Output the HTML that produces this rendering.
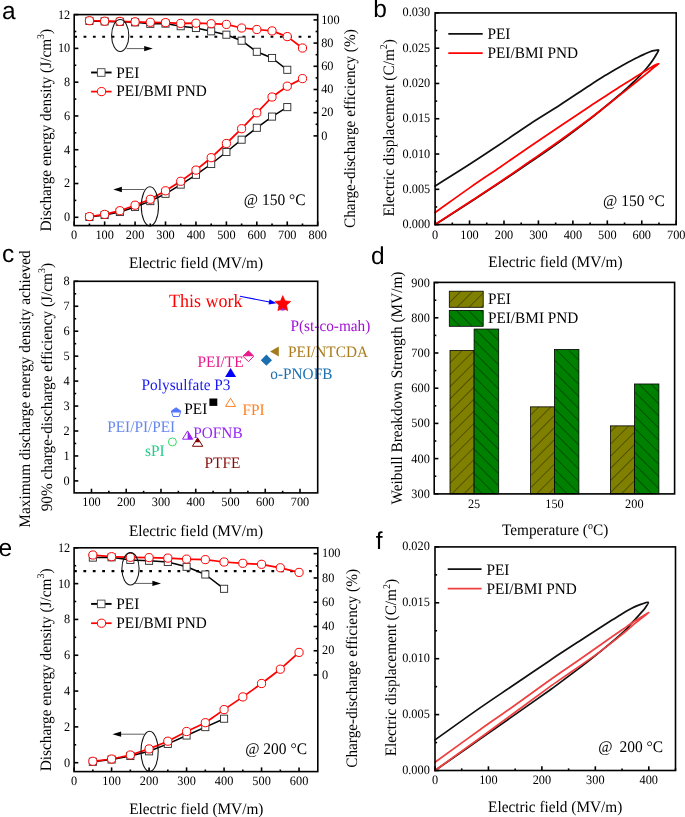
<!DOCTYPE html>
<html><head><meta charset="utf-8"><title>figure</title>
<style>html,body{margin:0;padding:0;background:#fff;width:685px;height:817px;overflow:hidden}svg{display:block;will-change:transform}text{text-rendering:geometricPrecision}</style>
</head><body>
<svg width="685" height="817" viewBox="0 0 685 817">
<rect width="685" height="817" fill="#fff"/>
<line x1="74.2" y1="217.3" x2="78.4" y2="217.3" stroke="#000" stroke-width="1.6"/>
<line x1="74.2" y1="183.52" x2="78.4" y2="183.52" stroke="#000" stroke-width="1.6"/>
<line x1="74.2" y1="149.73" x2="78.4" y2="149.73" stroke="#000" stroke-width="1.6"/>
<line x1="74.2" y1="115.95" x2="78.4" y2="115.95" stroke="#000" stroke-width="1.6"/>
<line x1="74.2" y1="82.17" x2="78.4" y2="82.17" stroke="#000" stroke-width="1.6"/>
<line x1="74.2" y1="48.38" x2="78.4" y2="48.38" stroke="#000" stroke-width="1.6"/>
<line x1="74.2" y1="14.6" x2="78.4" y2="14.6" stroke="#000" stroke-width="1.6"/>
<line x1="74.2" y1="200.41" x2="76.3" y2="200.41" stroke="#000" stroke-width="1.6"/>
<line x1="74.2" y1="166.62" x2="76.3" y2="166.62" stroke="#000" stroke-width="1.6"/>
<line x1="74.2" y1="132.84" x2="76.3" y2="132.84" stroke="#000" stroke-width="1.6"/>
<line x1="74.2" y1="99.06" x2="76.3" y2="99.06" stroke="#000" stroke-width="1.6"/>
<line x1="74.2" y1="65.27" x2="76.3" y2="65.27" stroke="#000" stroke-width="1.6"/>
<line x1="74.2" y1="31.49" x2="76.3" y2="31.49" stroke="#000" stroke-width="1.6"/>
<line x1="74.2" y1="225.6" x2="74.2" y2="221.4" stroke="#000" stroke-width="1.6"/>
<line x1="104.64" y1="225.6" x2="104.64" y2="221.4" stroke="#000" stroke-width="1.6"/>
<line x1="135.07" y1="225.6" x2="135.07" y2="221.4" stroke="#000" stroke-width="1.6"/>
<line x1="165.51" y1="225.6" x2="165.51" y2="221.4" stroke="#000" stroke-width="1.6"/>
<line x1="195.95" y1="225.6" x2="195.95" y2="221.4" stroke="#000" stroke-width="1.6"/>
<line x1="226.39" y1="225.6" x2="226.39" y2="221.4" stroke="#000" stroke-width="1.6"/>
<line x1="256.82" y1="225.6" x2="256.82" y2="221.4" stroke="#000" stroke-width="1.6"/>
<line x1="287.26" y1="225.6" x2="287.26" y2="221.4" stroke="#000" stroke-width="1.6"/>
<line x1="317.7" y1="225.6" x2="317.7" y2="221.4" stroke="#000" stroke-width="1.6"/>
<line x1="89.42" y1="225.6" x2="89.42" y2="223.5" stroke="#000" stroke-width="1.6"/>
<line x1="119.86" y1="225.6" x2="119.86" y2="223.5" stroke="#000" stroke-width="1.6"/>
<line x1="150.29" y1="225.6" x2="150.29" y2="223.5" stroke="#000" stroke-width="1.6"/>
<line x1="180.73" y1="225.6" x2="180.73" y2="223.5" stroke="#000" stroke-width="1.6"/>
<line x1="211.17" y1="225.6" x2="211.17" y2="223.5" stroke="#000" stroke-width="1.6"/>
<line x1="241.61" y1="225.6" x2="241.61" y2="223.5" stroke="#000" stroke-width="1.6"/>
<line x1="272.04" y1="225.6" x2="272.04" y2="223.5" stroke="#000" stroke-width="1.6"/>
<line x1="302.48" y1="225.6" x2="302.48" y2="223.5" stroke="#000" stroke-width="1.6"/>
<line x1="317.7" y1="135.9" x2="313.5" y2="135.9" stroke="#000" stroke-width="1.6"/>
<line x1="317.7" y1="112.7" x2="313.5" y2="112.7" stroke="#000" stroke-width="1.6"/>
<line x1="317.7" y1="89.5" x2="313.5" y2="89.5" stroke="#000" stroke-width="1.6"/>
<line x1="317.7" y1="66.3" x2="313.5" y2="66.3" stroke="#000" stroke-width="1.6"/>
<line x1="317.7" y1="43.1" x2="313.5" y2="43.1" stroke="#000" stroke-width="1.6"/>
<line x1="317.7" y1="19.9" x2="313.5" y2="19.9" stroke="#000" stroke-width="1.6"/>
<line x1="317.7" y1="124.3" x2="315.6" y2="124.3" stroke="#000" stroke-width="1.6"/>
<line x1="317.7" y1="101.1" x2="315.6" y2="101.1" stroke="#000" stroke-width="1.6"/>
<line x1="317.7" y1="77.9" x2="315.6" y2="77.9" stroke="#000" stroke-width="1.6"/>
<line x1="317.7" y1="54.7" x2="315.6" y2="54.7" stroke="#000" stroke-width="1.6"/>
<line x1="317.7" y1="31.5" x2="315.6" y2="31.5" stroke="#000" stroke-width="1.6"/>
<line x1="74.2" y1="36.7" x2="313" y2="36.7" stroke="#000" stroke-width="2.1" stroke-dasharray="2.8 6.55"/>
<polyline points="89.42,20.9 104.64,21.4 119.86,21.8 135.07,22.3 150.29,23.8 165.51,23.6 180.73,26.2 195.95,28 211.17,31.3 226.39,34.7 241.61,40.7 256.82,51.8 272.04,58 287.26,69.8" fill="none" stroke="#000" stroke-width="1.5" stroke-linejoin="round" stroke-linecap="round"/>
<polyline points="89.42,217 104.64,215 119.86,212 135.07,207 150.29,201.1 165.51,193.8 180.73,184.6 195.95,174.8 211.17,164 226.39,152 241.61,139.7 256.82,127.8 272.04,116.6 287.26,107.1" fill="none" stroke="#000" stroke-width="1.5" stroke-linejoin="round" stroke-linecap="round"/>
<polyline points="89.42,20.7 104.64,21.2 119.86,21.4 135.07,21.8 150.29,22.3 165.51,22.6 180.73,23.4 195.95,23.2 211.17,23.7 226.39,24.4 241.61,28 256.82,29.5 272.04,30.9 287.26,36.6 302.48,48" fill="none" stroke="#f00" stroke-width="1.75" stroke-linejoin="round" stroke-linecap="round"/>
<polyline points="89.42,216.6 104.64,214.4 119.86,210.7 135.07,205.2 150.29,199.3 165.51,190.8 180.73,181.3 195.95,170.1 211.17,157.7 226.39,143.5 241.61,128.7 256.82,112.8 272.04,97 287.26,86.2 302.48,78.6" fill="none" stroke="#f00" stroke-width="1.75" stroke-linejoin="round" stroke-linecap="round"/>
<rect x="85.87" y="17.35" width="7.1" height="7.1" fill="#fff" stroke="#333" stroke-width="0.95"/>
<rect x="101.09" y="17.85" width="7.1" height="7.1" fill="#fff" stroke="#333" stroke-width="0.95"/>
<rect x="116.31" y="18.25" width="7.1" height="7.1" fill="#fff" stroke="#333" stroke-width="0.95"/>
<rect x="131.52" y="18.75" width="7.1" height="7.1" fill="#fff" stroke="#333" stroke-width="0.95"/>
<rect x="146.74" y="20.25" width="7.1" height="7.1" fill="#fff" stroke="#333" stroke-width="0.95"/>
<rect x="161.96" y="20.05" width="7.1" height="7.1" fill="#fff" stroke="#333" stroke-width="0.95"/>
<rect x="177.18" y="22.65" width="7.1" height="7.1" fill="#fff" stroke="#333" stroke-width="0.95"/>
<rect x="192.4" y="24.45" width="7.1" height="7.1" fill="#fff" stroke="#333" stroke-width="0.95"/>
<rect x="207.62" y="27.75" width="7.1" height="7.1" fill="#fff" stroke="#333" stroke-width="0.95"/>
<rect x="222.84" y="31.15" width="7.1" height="7.1" fill="#fff" stroke="#333" stroke-width="0.95"/>
<rect x="238.06" y="37.15" width="7.1" height="7.1" fill="#fff" stroke="#333" stroke-width="0.95"/>
<rect x="253.27" y="48.25" width="7.1" height="7.1" fill="#fff" stroke="#333" stroke-width="0.95"/>
<rect x="268.49" y="54.45" width="7.1" height="7.1" fill="#fff" stroke="#333" stroke-width="0.95"/>
<rect x="283.71" y="66.25" width="7.1" height="7.1" fill="#fff" stroke="#333" stroke-width="0.95"/>
<rect x="85.87" y="213.45" width="7.1" height="7.1" fill="#fff" stroke="#333" stroke-width="0.95"/>
<rect x="101.09" y="211.45" width="7.1" height="7.1" fill="#fff" stroke="#333" stroke-width="0.95"/>
<rect x="116.31" y="208.45" width="7.1" height="7.1" fill="#fff" stroke="#333" stroke-width="0.95"/>
<rect x="131.52" y="203.45" width="7.1" height="7.1" fill="#fff" stroke="#333" stroke-width="0.95"/>
<rect x="146.74" y="197.55" width="7.1" height="7.1" fill="#fff" stroke="#333" stroke-width="0.95"/>
<rect x="161.96" y="190.25" width="7.1" height="7.1" fill="#fff" stroke="#333" stroke-width="0.95"/>
<rect x="177.18" y="181.05" width="7.1" height="7.1" fill="#fff" stroke="#333" stroke-width="0.95"/>
<rect x="192.4" y="171.25" width="7.1" height="7.1" fill="#fff" stroke="#333" stroke-width="0.95"/>
<rect x="207.62" y="160.45" width="7.1" height="7.1" fill="#fff" stroke="#333" stroke-width="0.95"/>
<rect x="222.84" y="148.45" width="7.1" height="7.1" fill="#fff" stroke="#333" stroke-width="0.95"/>
<rect x="238.06" y="136.15" width="7.1" height="7.1" fill="#fff" stroke="#333" stroke-width="0.95"/>
<rect x="253.27" y="124.25" width="7.1" height="7.1" fill="#fff" stroke="#333" stroke-width="0.95"/>
<rect x="268.49" y="113.05" width="7.1" height="7.1" fill="#fff" stroke="#333" stroke-width="0.95"/>
<rect x="283.71" y="103.55" width="7.1" height="7.1" fill="#fff" stroke="#333" stroke-width="0.95"/>
<circle cx="89.42" cy="20.7" r="4.1" fill="#fff" stroke="#f00" stroke-width="1"/>
<circle cx="104.64" cy="21.2" r="4.1" fill="#fff" stroke="#f00" stroke-width="1"/>
<circle cx="119.86" cy="21.4" r="4.1" fill="#fff" stroke="#f00" stroke-width="1"/>
<circle cx="135.07" cy="21.8" r="4.1" fill="#fff" stroke="#f00" stroke-width="1"/>
<circle cx="150.29" cy="22.3" r="4.1" fill="#fff" stroke="#f00" stroke-width="1"/>
<circle cx="165.51" cy="22.6" r="4.1" fill="#fff" stroke="#f00" stroke-width="1"/>
<circle cx="180.73" cy="23.4" r="4.1" fill="#fff" stroke="#f00" stroke-width="1"/>
<circle cx="195.95" cy="23.2" r="4.1" fill="#fff" stroke="#f00" stroke-width="1"/>
<circle cx="211.17" cy="23.7" r="4.1" fill="#fff" stroke="#f00" stroke-width="1"/>
<circle cx="226.39" cy="24.4" r="4.1" fill="#fff" stroke="#f00" stroke-width="1"/>
<circle cx="241.61" cy="28" r="4.1" fill="#fff" stroke="#f00" stroke-width="1"/>
<circle cx="256.82" cy="29.5" r="4.1" fill="#fff" stroke="#f00" stroke-width="1"/>
<circle cx="272.04" cy="30.9" r="4.1" fill="#fff" stroke="#f00" stroke-width="1"/>
<circle cx="287.26" cy="36.6" r="4.1" fill="#fff" stroke="#f00" stroke-width="1"/>
<circle cx="302.48" cy="48" r="4.1" fill="#fff" stroke="#f00" stroke-width="1"/>
<circle cx="89.42" cy="216.6" r="4.1" fill="#fff" stroke="#f00" stroke-width="1"/>
<circle cx="104.64" cy="214.4" r="4.1" fill="#fff" stroke="#f00" stroke-width="1"/>
<circle cx="119.86" cy="210.7" r="4.1" fill="#fff" stroke="#f00" stroke-width="1"/>
<circle cx="135.07" cy="205.2" r="4.1" fill="#fff" stroke="#f00" stroke-width="1"/>
<circle cx="150.29" cy="199.3" r="4.1" fill="#fff" stroke="#f00" stroke-width="1"/>
<circle cx="165.51" cy="190.8" r="4.1" fill="#fff" stroke="#f00" stroke-width="1"/>
<circle cx="180.73" cy="181.3" r="4.1" fill="#fff" stroke="#f00" stroke-width="1"/>
<circle cx="195.95" cy="170.1" r="4.1" fill="#fff" stroke="#f00" stroke-width="1"/>
<circle cx="211.17" cy="157.7" r="4.1" fill="#fff" stroke="#f00" stroke-width="1"/>
<circle cx="226.39" cy="143.5" r="4.1" fill="#fff" stroke="#f00" stroke-width="1"/>
<circle cx="241.61" cy="128.7" r="4.1" fill="#fff" stroke="#f00" stroke-width="1"/>
<circle cx="256.82" cy="112.8" r="4.1" fill="#fff" stroke="#f00" stroke-width="1"/>
<circle cx="272.04" cy="97" r="4.1" fill="#fff" stroke="#f00" stroke-width="1"/>
<circle cx="287.26" cy="86.2" r="4.1" fill="#fff" stroke="#f00" stroke-width="1"/>
<circle cx="302.48" cy="78.6" r="4.1" fill="#fff" stroke="#f00" stroke-width="1"/>
<ellipse cx="120.2" cy="35.5" rx="8.6" ry="16" fill="none" stroke="#111" stroke-width="1.05"/>
<ellipse cx="149.9" cy="206.4" rx="8.6" ry="19.6" fill="none" stroke="#111" stroke-width="1.05"/>
<line x1="126.5" y1="48.6" x2="144.7" y2="48.6" stroke="#444" stroke-width="0.85"/>
<polygon points="152.8,48.6 144.2,51.25 144.2,45.95" fill="#000" stroke="none" stroke-width="1" stroke-linejoin="miter"/>
<line x1="144.5" y1="189.5" x2="121.4" y2="189.5" stroke="#444" stroke-width="0.85"/>
<polygon points="113.3,189.5 121.9,186.85 121.9,192.15" fill="#000" stroke="none" stroke-width="1" stroke-linejoin="miter"/>
<line x1="91.1" y1="72.5" x2="111.6" y2="72.5" stroke="#000" stroke-width="1.9"/>
<rect x="97.4" y="68.7" width="7.6" height="7.6" fill="#fff" stroke="#444" stroke-width="0.9"/>
<line x1="91.1" y1="91.6" x2="111.6" y2="91.6" stroke="#f00" stroke-width="1.75"/>
<circle cx="101.5" cy="91.6" r="4.1" fill="#fff" stroke="#f00" stroke-width="1"/>
<text font-size="15.3" text-anchor="start" fill="#000" font-family='"Liberation Serif", serif' transform="translate(116.3 77.6) scale(1 1.04)">PEI</text>
<text font-size="15.3" text-anchor="start" fill="#000" font-family='"Liberation Serif", serif' transform="translate(116.3 96.4) scale(1 1.04)">PEI/BMI PND</text>
<text font-size="15.5" text-anchor="start" fill="#000" font-family='"Liberation Serif", serif' transform="translate(243.8 205) scale(1 1.04)">@ 150 °C</text>
<rect x="74.2" y="14.6" width="243.5" height="211" fill="none" stroke="#000" stroke-width="1.6"/>
<text font-size="12.3" text-anchor="end" fill="#000" font-family='"Liberation Serif", serif' transform="translate(70.2 221.2) scale(1 1.04)">0</text>
<text font-size="12.3" text-anchor="end" fill="#000" font-family='"Liberation Serif", serif' transform="translate(70.2 187.42) scale(1 1.04)">2</text>
<text font-size="12.3" text-anchor="end" fill="#000" font-family='"Liberation Serif", serif' transform="translate(70.2 153.63) scale(1 1.04)">4</text>
<text font-size="12.3" text-anchor="end" fill="#000" font-family='"Liberation Serif", serif' transform="translate(70.2 119.85) scale(1 1.04)">6</text>
<text font-size="12.3" text-anchor="end" fill="#000" font-family='"Liberation Serif", serif' transform="translate(70.2 86.07) scale(1 1.04)">8</text>
<text font-size="12.3" text-anchor="end" fill="#000" font-family='"Liberation Serif", serif' transform="translate(70.2 52.28) scale(1 1.04)">10</text>
<text font-size="12.3" text-anchor="end" fill="#000" font-family='"Liberation Serif", serif' transform="translate(70.2 18.5) scale(1 1.04)">12</text>
<text font-size="12.3" text-anchor="middle" fill="#000" font-family='"Liberation Serif", serif' transform="translate(74.2 239) scale(1 1.04)">0</text>
<text font-size="12.3" text-anchor="middle" fill="#000" font-family='"Liberation Serif", serif' transform="translate(104.64 239) scale(1 1.04)">100</text>
<text font-size="12.3" text-anchor="middle" fill="#000" font-family='"Liberation Serif", serif' transform="translate(135.07 239) scale(1 1.04)">200</text>
<text font-size="12.3" text-anchor="middle" fill="#000" font-family='"Liberation Serif", serif' transform="translate(165.51 239) scale(1 1.04)">300</text>
<text font-size="12.3" text-anchor="middle" fill="#000" font-family='"Liberation Serif", serif' transform="translate(195.95 239) scale(1 1.04)">400</text>
<text font-size="12.3" text-anchor="middle" fill="#000" font-family='"Liberation Serif", serif' transform="translate(226.39 239) scale(1 1.04)">500</text>
<text font-size="12.3" text-anchor="middle" fill="#000" font-family='"Liberation Serif", serif' transform="translate(256.82 239) scale(1 1.04)">600</text>
<text font-size="12.3" text-anchor="middle" fill="#000" font-family='"Liberation Serif", serif' transform="translate(287.26 239) scale(1 1.04)">700</text>
<text font-size="12.3" text-anchor="middle" fill="#000" font-family='"Liberation Serif", serif' transform="translate(317.7 239) scale(1 1.04)">800</text>
<text font-size="12.3" text-anchor="start" fill="#000" font-family='"Liberation Serif", serif' transform="translate(321.2 139.6) scale(1 1.04)">0</text>
<text font-size="12.3" text-anchor="start" fill="#000" font-family='"Liberation Serif", serif' transform="translate(321.2 116.4) scale(1 1.04)">20</text>
<text font-size="12.3" text-anchor="start" fill="#000" font-family='"Liberation Serif", serif' transform="translate(321.2 93.2) scale(1 1.04)">40</text>
<text font-size="12.3" text-anchor="start" fill="#000" font-family='"Liberation Serif", serif' transform="translate(321.2 70) scale(1 1.04)">60</text>
<text font-size="12.3" text-anchor="start" fill="#000" font-family='"Liberation Serif", serif' transform="translate(321.2 46.8) scale(1 1.04)">80</text>
<text font-size="12.3" text-anchor="start" fill="#000" font-family='"Liberation Serif", serif' transform="translate(321.2 23.6) scale(1 1.04)">100</text>
<text font-size="15.3" text-anchor="middle" fill="#000" font-family='"Liberation Serif", serif' transform="translate(50.6 130.2) rotate(-90) scale(1 1.04)">Discharge energy density (J/cm<tspan dy="-6" font-size="10">3</tspan><tspan dy="6">)</tspan></text>
<text font-size="15.3" text-anchor="middle" fill="#000" font-family='"Liberation Serif", serif' transform="translate(354.6 128.6) rotate(-90) scale(1 1.04)">Charge-discharge efficiency (%)</text>
<text font-size="15.3" text-anchor="middle" fill="#000" font-family='"Liberation Serif", serif' transform="translate(196 267.8) scale(1 1.04)">Electric field (MV/m)</text>
<line x1="74.1" y1="762.7" x2="78.3" y2="762.7" stroke="#000" stroke-width="1.6"/>
<line x1="74.1" y1="726.88" x2="78.3" y2="726.88" stroke="#000" stroke-width="1.6"/>
<line x1="74.1" y1="691.07" x2="78.3" y2="691.07" stroke="#000" stroke-width="1.6"/>
<line x1="74.1" y1="655.25" x2="78.3" y2="655.25" stroke="#000" stroke-width="1.6"/>
<line x1="74.1" y1="619.43" x2="78.3" y2="619.43" stroke="#000" stroke-width="1.6"/>
<line x1="74.1" y1="583.62" x2="78.3" y2="583.62" stroke="#000" stroke-width="1.6"/>
<line x1="74.1" y1="547.8" x2="78.3" y2="547.8" stroke="#000" stroke-width="1.6"/>
<line x1="74.1" y1="744.79" x2="76.2" y2="744.79" stroke="#000" stroke-width="1.6"/>
<line x1="74.1" y1="708.98" x2="76.2" y2="708.98" stroke="#000" stroke-width="1.6"/>
<line x1="74.1" y1="673.16" x2="76.2" y2="673.16" stroke="#000" stroke-width="1.6"/>
<line x1="74.1" y1="637.34" x2="76.2" y2="637.34" stroke="#000" stroke-width="1.6"/>
<line x1="74.1" y1="601.52" x2="76.2" y2="601.52" stroke="#000" stroke-width="1.6"/>
<line x1="74.1" y1="565.71" x2="76.2" y2="565.71" stroke="#000" stroke-width="1.6"/>
<line x1="74.1" y1="771.6" x2="74.1" y2="767.4" stroke="#000" stroke-width="1.6"/>
<line x1="111.59" y1="771.6" x2="111.59" y2="767.4" stroke="#000" stroke-width="1.6"/>
<line x1="149.08" y1="771.6" x2="149.08" y2="767.4" stroke="#000" stroke-width="1.6"/>
<line x1="186.58" y1="771.6" x2="186.58" y2="767.4" stroke="#000" stroke-width="1.6"/>
<line x1="224.07" y1="771.6" x2="224.07" y2="767.4" stroke="#000" stroke-width="1.6"/>
<line x1="261.56" y1="771.6" x2="261.56" y2="767.4" stroke="#000" stroke-width="1.6"/>
<line x1="299.05" y1="771.6" x2="299.05" y2="767.4" stroke="#000" stroke-width="1.6"/>
<line x1="92.85" y1="771.6" x2="92.85" y2="769.5" stroke="#000" stroke-width="1.6"/>
<line x1="130.34" y1="771.6" x2="130.34" y2="769.5" stroke="#000" stroke-width="1.6"/>
<line x1="167.83" y1="771.6" x2="167.83" y2="769.5" stroke="#000" stroke-width="1.6"/>
<line x1="205.32" y1="771.6" x2="205.32" y2="769.5" stroke="#000" stroke-width="1.6"/>
<line x1="242.82" y1="771.6" x2="242.82" y2="769.5" stroke="#000" stroke-width="1.6"/>
<line x1="280.31" y1="771.6" x2="280.31" y2="769.5" stroke="#000" stroke-width="1.6"/>
<line x1="317.8" y1="675" x2="313.6" y2="675" stroke="#000" stroke-width="1.6"/>
<line x1="317.8" y1="650.74" x2="313.6" y2="650.74" stroke="#000" stroke-width="1.6"/>
<line x1="317.8" y1="626.48" x2="313.6" y2="626.48" stroke="#000" stroke-width="1.6"/>
<line x1="317.8" y1="602.22" x2="313.6" y2="602.22" stroke="#000" stroke-width="1.6"/>
<line x1="317.8" y1="577.96" x2="313.6" y2="577.96" stroke="#000" stroke-width="1.6"/>
<line x1="317.8" y1="553.7" x2="313.6" y2="553.7" stroke="#000" stroke-width="1.6"/>
<line x1="317.8" y1="662.87" x2="315.7" y2="662.87" stroke="#000" stroke-width="1.6"/>
<line x1="317.8" y1="638.61" x2="315.7" y2="638.61" stroke="#000" stroke-width="1.6"/>
<line x1="317.8" y1="614.35" x2="315.7" y2="614.35" stroke="#000" stroke-width="1.6"/>
<line x1="317.8" y1="590.09" x2="315.7" y2="590.09" stroke="#000" stroke-width="1.6"/>
<line x1="317.8" y1="565.83" x2="315.7" y2="565.83" stroke="#000" stroke-width="1.6"/>
<line x1="74" y1="571.1" x2="312" y2="571.1" stroke="#000" stroke-width="2.1" stroke-dasharray="2.8 6.6"/>
<polyline points="92.85,557.6 111.59,557.3 130.34,559.9 149.08,560.8 167.83,562 186.58,566.8 205.32,574.5 224.07,588.8" fill="none" stroke="#000" stroke-width="1.5" stroke-linejoin="round" stroke-linecap="round"/>
<polyline points="92.85,761.8 111.59,759.5 130.34,756 149.08,751.3 167.83,743.9 186.58,735.5 205.32,727.1 224.07,718.7" fill="none" stroke="#000" stroke-width="1.5" stroke-linejoin="round" stroke-linecap="round"/>
<polyline points="92.85,555 111.59,556.7 130.34,557.3 149.08,557.6 167.83,558.1 186.58,559.1 205.32,559.6 224.07,562 242.82,563.3 261.56,564.3 280.31,567.8 299.05,572.4" fill="none" stroke="#f00" stroke-width="1.75" stroke-linejoin="round" stroke-linecap="round"/>
<polyline points="92.85,761.3 111.59,759 130.34,755 149.08,748.9 167.83,741.2 186.58,731.5 205.32,722.7 224.07,709.6 242.82,696.9 261.56,683.5 280.31,669.2 299.05,652.4" fill="none" stroke="#f00" stroke-width="1.75" stroke-linejoin="round" stroke-linecap="round"/>
<rect x="89.3" y="554.05" width="7.1" height="7.1" fill="#fff" stroke="#333" stroke-width="0.95"/>
<rect x="108.04" y="553.75" width="7.1" height="7.1" fill="#fff" stroke="#333" stroke-width="0.95"/>
<rect x="126.79" y="556.35" width="7.1" height="7.1" fill="#fff" stroke="#333" stroke-width="0.95"/>
<rect x="145.53" y="557.25" width="7.1" height="7.1" fill="#fff" stroke="#333" stroke-width="0.95"/>
<rect x="164.28" y="558.45" width="7.1" height="7.1" fill="#fff" stroke="#333" stroke-width="0.95"/>
<rect x="183.03" y="563.25" width="7.1" height="7.1" fill="#fff" stroke="#333" stroke-width="0.95"/>
<rect x="201.77" y="570.95" width="7.1" height="7.1" fill="#fff" stroke="#333" stroke-width="0.95"/>
<rect x="220.52" y="585.25" width="7.1" height="7.1" fill="#fff" stroke="#333" stroke-width="0.95"/>
<rect x="89.3" y="758.25" width="7.1" height="7.1" fill="#fff" stroke="#333" stroke-width="0.95"/>
<rect x="108.04" y="755.95" width="7.1" height="7.1" fill="#fff" stroke="#333" stroke-width="0.95"/>
<rect x="126.79" y="752.45" width="7.1" height="7.1" fill="#fff" stroke="#333" stroke-width="0.95"/>
<rect x="145.53" y="747.75" width="7.1" height="7.1" fill="#fff" stroke="#333" stroke-width="0.95"/>
<rect x="164.28" y="740.35" width="7.1" height="7.1" fill="#fff" stroke="#333" stroke-width="0.95"/>
<rect x="183.03" y="731.95" width="7.1" height="7.1" fill="#fff" stroke="#333" stroke-width="0.95"/>
<rect x="201.77" y="723.55" width="7.1" height="7.1" fill="#fff" stroke="#333" stroke-width="0.95"/>
<rect x="220.52" y="715.15" width="7.1" height="7.1" fill="#fff" stroke="#333" stroke-width="0.95"/>
<circle cx="92.85" cy="555" r="4.1" fill="#fff" stroke="#f00" stroke-width="1"/>
<circle cx="111.59" cy="556.7" r="4.1" fill="#fff" stroke="#f00" stroke-width="1"/>
<circle cx="130.34" cy="557.3" r="4.1" fill="#fff" stroke="#f00" stroke-width="1"/>
<circle cx="149.08" cy="557.6" r="4.1" fill="#fff" stroke="#f00" stroke-width="1"/>
<circle cx="167.83" cy="558.1" r="4.1" fill="#fff" stroke="#f00" stroke-width="1"/>
<circle cx="186.58" cy="559.1" r="4.1" fill="#fff" stroke="#f00" stroke-width="1"/>
<circle cx="205.32" cy="559.6" r="4.1" fill="#fff" stroke="#f00" stroke-width="1"/>
<circle cx="224.07" cy="562" r="4.1" fill="#fff" stroke="#f00" stroke-width="1"/>
<circle cx="242.82" cy="563.3" r="4.1" fill="#fff" stroke="#f00" stroke-width="1"/>
<circle cx="261.56" cy="564.3" r="4.1" fill="#fff" stroke="#f00" stroke-width="1"/>
<circle cx="280.31" cy="567.8" r="4.1" fill="#fff" stroke="#f00" stroke-width="1"/>
<circle cx="299.05" cy="572.4" r="4.1" fill="#fff" stroke="#f00" stroke-width="1"/>
<circle cx="92.85" cy="761.3" r="4.1" fill="#fff" stroke="#f00" stroke-width="1"/>
<circle cx="111.59" cy="759" r="4.1" fill="#fff" stroke="#f00" stroke-width="1"/>
<circle cx="130.34" cy="755" r="4.1" fill="#fff" stroke="#f00" stroke-width="1"/>
<circle cx="149.08" cy="748.9" r="4.1" fill="#fff" stroke="#f00" stroke-width="1"/>
<circle cx="167.83" cy="741.2" r="4.1" fill="#fff" stroke="#f00" stroke-width="1"/>
<circle cx="186.58" cy="731.5" r="4.1" fill="#fff" stroke="#f00" stroke-width="1"/>
<circle cx="205.32" cy="722.7" r="4.1" fill="#fff" stroke="#f00" stroke-width="1"/>
<circle cx="224.07" cy="709.6" r="4.1" fill="#fff" stroke="#f00" stroke-width="1"/>
<circle cx="242.82" cy="696.9" r="4.1" fill="#fff" stroke="#f00" stroke-width="1"/>
<circle cx="261.56" cy="683.5" r="4.1" fill="#fff" stroke="#f00" stroke-width="1"/>
<circle cx="280.31" cy="669.2" r="4.1" fill="#fff" stroke="#f00" stroke-width="1"/>
<circle cx="299.05" cy="652.4" r="4.1" fill="#fff" stroke="#f00" stroke-width="1"/>
<ellipse cx="130.5" cy="568.8" rx="8.6" ry="16.2" fill="none" stroke="#111" stroke-width="1.05"/>
<ellipse cx="149.6" cy="751.3" rx="8.6" ry="20.1" fill="none" stroke="#111" stroke-width="1.05"/>
<line x1="134.7" y1="583.4" x2="152.9" y2="583.4" stroke="#444" stroke-width="0.85"/>
<polygon points="161,583.4 152.4,586.05 152.4,580.75" fill="#000" stroke="none" stroke-width="1" stroke-linejoin="miter"/>
<line x1="144.5" y1="734.2" x2="120.6" y2="734.2" stroke="#444" stroke-width="0.85"/>
<polygon points="112.5,734.2 121.1,731.55 121.1,736.85" fill="#000" stroke="none" stroke-width="1" stroke-linejoin="miter"/>
<line x1="91.1" y1="603.9" x2="111.6" y2="603.9" stroke="#000" stroke-width="1.9"/>
<rect x="97.4" y="600.1" width="7.6" height="7.6" fill="#fff" stroke="#444" stroke-width="0.9"/>
<line x1="91.1" y1="623.2" x2="111.6" y2="623.2" stroke="#f00" stroke-width="1.75"/>
<circle cx="101.5" cy="623.2" r="4.1" fill="#fff" stroke="#f00" stroke-width="1"/>
<text font-size="15.3" text-anchor="start" fill="#000" font-family='"Liberation Serif", serif' transform="translate(116.3 609) scale(1 1.04)">PEI</text>
<text font-size="15.3" text-anchor="start" fill="#000" font-family='"Liberation Serif", serif' transform="translate(116.3 628) scale(1 1.04)">PEI/BMI PND</text>
<text font-size="15.5" text-anchor="start" fill="#000" font-family='"Liberation Serif", serif' transform="translate(245.2 754) scale(1 1.04)">@ 200 °C</text>
<rect x="74.1" y="547.8" width="243.7" height="223.8" fill="none" stroke="#000" stroke-width="1.6"/>
<text font-size="12.3" text-anchor="end" fill="#000" font-family='"Liberation Serif", serif' transform="translate(70.2 766.6) scale(1 1.04)">0</text>
<text font-size="12.3" text-anchor="end" fill="#000" font-family='"Liberation Serif", serif' transform="translate(70.2 730.78) scale(1 1.04)">2</text>
<text font-size="12.3" text-anchor="end" fill="#000" font-family='"Liberation Serif", serif' transform="translate(70.2 694.97) scale(1 1.04)">4</text>
<text font-size="12.3" text-anchor="end" fill="#000" font-family='"Liberation Serif", serif' transform="translate(70.2 659.15) scale(1 1.04)">6</text>
<text font-size="12.3" text-anchor="end" fill="#000" font-family='"Liberation Serif", serif' transform="translate(70.2 623.33) scale(1 1.04)">8</text>
<text font-size="12.3" text-anchor="end" fill="#000" font-family='"Liberation Serif", serif' transform="translate(70.2 587.52) scale(1 1.04)">10</text>
<text font-size="12.3" text-anchor="end" fill="#000" font-family='"Liberation Serif", serif' transform="translate(70.2 551.7) scale(1 1.04)">12</text>
<text font-size="12.3" text-anchor="middle" fill="#000" font-family='"Liberation Serif", serif' transform="translate(74.1 785) scale(1 1.04)">0</text>
<text font-size="12.3" text-anchor="middle" fill="#000" font-family='"Liberation Serif", serif' transform="translate(111.59 785) scale(1 1.04)">100</text>
<text font-size="12.3" text-anchor="middle" fill="#000" font-family='"Liberation Serif", serif' transform="translate(149.08 785) scale(1 1.04)">200</text>
<text font-size="12.3" text-anchor="middle" fill="#000" font-family='"Liberation Serif", serif' transform="translate(186.58 785) scale(1 1.04)">300</text>
<text font-size="12.3" text-anchor="middle" fill="#000" font-family='"Liberation Serif", serif' transform="translate(224.07 785) scale(1 1.04)">400</text>
<text font-size="12.3" text-anchor="middle" fill="#000" font-family='"Liberation Serif", serif' transform="translate(261.56 785) scale(1 1.04)">500</text>
<text font-size="12.3" text-anchor="middle" fill="#000" font-family='"Liberation Serif", serif' transform="translate(299.05 785) scale(1 1.04)">600</text>
<text font-size="12.3" text-anchor="start" fill="#000" font-family='"Liberation Serif", serif' transform="translate(322 678.7) scale(1 1.04)">0</text>
<text font-size="12.3" text-anchor="start" fill="#000" font-family='"Liberation Serif", serif' transform="translate(322 654.44) scale(1 1.04)">20</text>
<text font-size="12.3" text-anchor="start" fill="#000" font-family='"Liberation Serif", serif' transform="translate(322 630.18) scale(1 1.04)">40</text>
<text font-size="12.3" text-anchor="start" fill="#000" font-family='"Liberation Serif", serif' transform="translate(322 605.92) scale(1 1.04)">60</text>
<text font-size="12.3" text-anchor="start" fill="#000" font-family='"Liberation Serif", serif' transform="translate(322 581.66) scale(1 1.04)">80</text>
<text font-size="12.3" text-anchor="start" fill="#000" font-family='"Liberation Serif", serif' transform="translate(322 557.4) scale(1 1.04)">100</text>
<text font-size="15.3" text-anchor="middle" fill="#000" font-family='"Liberation Serif", serif' transform="translate(50.6 669.8) rotate(-90) scale(1 1.04)">Discharge energy density (J/cm<tspan dy="-6" font-size="10">3</tspan><tspan dy="6">)</tspan></text>
<text font-size="15.3" text-anchor="middle" fill="#000" font-family='"Liberation Serif", serif' transform="translate(356.6 668.4) rotate(-90) scale(1 1.04)">Charge-discharge efficiency (%)</text>
<text font-size="15.3" text-anchor="middle" fill="#000" font-family='"Liberation Serif", serif' transform="translate(196.3 813.7) scale(1 1.04)">Electric field (MV/m)</text>
<line x1="435.1" y1="224.6" x2="439.3" y2="224.6" stroke="#000" stroke-width="1.6"/>
<line x1="435.1" y1="189.32" x2="439.3" y2="189.32" stroke="#000" stroke-width="1.6"/>
<line x1="435.1" y1="154.03" x2="439.3" y2="154.03" stroke="#000" stroke-width="1.6"/>
<line x1="435.1" y1="118.75" x2="439.3" y2="118.75" stroke="#000" stroke-width="1.6"/>
<line x1="435.1" y1="83.47" x2="439.3" y2="83.47" stroke="#000" stroke-width="1.6"/>
<line x1="435.1" y1="48.18" x2="439.3" y2="48.18" stroke="#000" stroke-width="1.6"/>
<line x1="435.1" y1="12.9" x2="439.3" y2="12.9" stroke="#000" stroke-width="1.6"/>
<line x1="435.1" y1="206.96" x2="437.2" y2="206.96" stroke="#000" stroke-width="1.6"/>
<line x1="435.1" y1="171.68" x2="437.2" y2="171.68" stroke="#000" stroke-width="1.6"/>
<line x1="435.1" y1="136.39" x2="437.2" y2="136.39" stroke="#000" stroke-width="1.6"/>
<line x1="435.1" y1="101.11" x2="437.2" y2="101.11" stroke="#000" stroke-width="1.6"/>
<line x1="435.1" y1="65.82" x2="437.2" y2="65.82" stroke="#000" stroke-width="1.6"/>
<line x1="435.1" y1="30.54" x2="437.2" y2="30.54" stroke="#000" stroke-width="1.6"/>
<line x1="435.1" y1="224.6" x2="435.1" y2="220.4" stroke="#000" stroke-width="1.6"/>
<line x1="469.54" y1="224.6" x2="469.54" y2="220.4" stroke="#000" stroke-width="1.6"/>
<line x1="503.99" y1="224.6" x2="503.99" y2="220.4" stroke="#000" stroke-width="1.6"/>
<line x1="538.43" y1="224.6" x2="538.43" y2="220.4" stroke="#000" stroke-width="1.6"/>
<line x1="572.87" y1="224.6" x2="572.87" y2="220.4" stroke="#000" stroke-width="1.6"/>
<line x1="607.31" y1="224.6" x2="607.31" y2="220.4" stroke="#000" stroke-width="1.6"/>
<line x1="641.76" y1="224.6" x2="641.76" y2="220.4" stroke="#000" stroke-width="1.6"/>
<line x1="676.2" y1="224.6" x2="676.2" y2="220.4" stroke="#000" stroke-width="1.6"/>
<line x1="452.32" y1="224.6" x2="452.32" y2="222.5" stroke="#000" stroke-width="1.6"/>
<line x1="486.76" y1="224.6" x2="486.76" y2="222.5" stroke="#000" stroke-width="1.6"/>
<line x1="521.21" y1="224.6" x2="521.21" y2="222.5" stroke="#000" stroke-width="1.6"/>
<line x1="555.65" y1="224.6" x2="555.65" y2="222.5" stroke="#000" stroke-width="1.6"/>
<line x1="590.09" y1="224.6" x2="590.09" y2="222.5" stroke="#000" stroke-width="1.6"/>
<line x1="624.54" y1="224.6" x2="624.54" y2="222.5" stroke="#000" stroke-width="1.6"/>
<line x1="658.98" y1="224.6" x2="658.98" y2="222.5" stroke="#000" stroke-width="1.6"/>
<path d="M435.1,186 C446.73,178.67 458.43,171.43 470,164 C480.06,157.53 490.05,150.95 500,144.3 C510.05,137.58 519.89,130.53 530,123.9 C539.89,117.43 550.07,111.41 560,105 C570.07,98.51 579.97,91.75 590,85.2 C594.97,81.95 599.95,78.72 605,75.6 C609.28,72.95 613.65,70.44 618,67.9 C620.32,66.54 622.65,65.19 625,63.9 C627.31,62.63 629.65,61.41 632,60.2 C633.99,59.18 635.99,58.17 638,57.2 C639.99,56.24 641.99,55.32 644,54.4 C645.99,53.49 647.96,52.48 650,51.7 C651.29,51.21 652.65,50.91 654,50.6 C654.99,50.37 656,50.19 657,50.1 C657.53,50.05 658.64,49.85 658.6,50.2 C658.5,51.15 657.3,52.75 656.6,54 C655.84,55.35 655.04,56.69 654.2,58 C653.34,59.36 652.44,60.7 651.5,62 C650.51,63.36 649.45,64.68 648.4,66 C647.32,67.35 646.23,68.69 645.1,70 C643.93,71.36 642.72,72.68 641.5,74 C640.25,75.35 638.99,76.69 637.7,78 C636.36,79.36 634.97,80.67 633.6,82 C632.21,83.34 630.82,84.68 629.4,86 C627.95,87.35 626.48,88.68 625,90 C623.48,91.35 621.94,92.67 620.4,94 C618.84,95.34 617.28,96.68 615.7,98 C612.18,100.95 608.66,103.89 605.1,106.8 C600.09,110.89 595.13,115.05 590,119 C580.09,126.62 570.13,134.18 560,141.5 C550.13,148.64 540.05,155.51 530,162.4 C520.05,169.21 510.05,175.94 500,182.6 C490.05,189.2 480.03,195.71 470,202.2 C458.39,209.71 446.73,217.13 435.1,224.6" fill="none" stroke="#111" stroke-width="1.75" stroke-linejoin="round" stroke-linecap="round"/>
<path d="M435.1,212.5 C446.73,204.2 458.28,195.78 470,187.6 C479.92,180.68 490.02,174.03 500,167.2 C510.02,160.33 519.96,153.34 530,146.5 C539.96,139.71 549.99,133.02 560,126.3 C569.99,119.59 579.97,112.86 590,106.2 C594.97,102.89 599.99,99.65 605,96.4 C609.33,93.59 613.65,90.78 618,88 C620.32,86.51 622.67,85.07 625,83.6 C627.33,82.13 629.66,80.66 632,79.2 C633.99,77.96 636.01,76.75 638,75.5 C640.01,74.25 641.99,72.94 644,71.7 C645.99,70.48 648.01,69.31 650,68.1 C651.67,67.08 653.25,65.85 655,65 C656.18,64.42 658.8,63.56 658.8,63.8 C658.8,64.09 656.24,65.63 655,66.6 C653.3,67.93 651.67,69.34 650,70.7 C648,72.34 646,73.97 644,75.6 C642,77.23 640,78.87 638,80.5 C636,82.13 634,83.77 632,85.4 C629.67,87.3 627.35,89.22 625,91.1 C622.68,92.95 620.33,94.76 618,96.6 C613.66,100.03 609.35,103.49 605,106.9 C600.02,110.79 595.06,114.72 590,118.5 C580.06,125.92 570.09,133.3 560,140.5 C550.09,147.57 540.01,154.38 530,161.3 C520.01,168.21 510.08,175.21 500,182 C490.08,188.68 480,195.14 470,201.7 C458.37,209.34 446.73,216.97 435.1,224.6" fill="none" stroke="#ff0000" stroke-width="1.75" stroke-linejoin="round" stroke-linecap="round"/>
<line x1="448.3" y1="33.9" x2="482.7" y2="33.9" stroke="#111" stroke-width="1.8"/>
<line x1="448.3" y1="53.2" x2="482.7" y2="53.2" stroke="#ff0000" stroke-width="1.75"/>
<text font-size="15.3" text-anchor="start" fill="#000" font-family='"Liberation Serif", serif' transform="translate(487.5 38.8) scale(1 1.04)">PEI</text>
<text font-size="15.3" text-anchor="start" fill="#000" font-family='"Liberation Serif", serif' transform="translate(487.5 58) scale(1 1.04)">PEI/BMI PND</text>
<text font-size="15.5" text-anchor="start" fill="#000" font-family='"Liberation Serif", serif' transform="translate(603 206) scale(1 1.04)">@ 150 °C</text>
<rect x="435.1" y="12.9" width="241.1" height="211.7" fill="none" stroke="#000" stroke-width="1.6"/>
<text font-size="12.3" text-anchor="end" fill="#000" font-family='"Liberation Serif", serif' transform="translate(430.2 228.1) scale(1 1.04)">0.000</text>
<text font-size="12.3" text-anchor="end" fill="#000" font-family='"Liberation Serif", serif' transform="translate(430.2 192.82) scale(1 1.04)">0.005</text>
<text font-size="12.3" text-anchor="end" fill="#000" font-family='"Liberation Serif", serif' transform="translate(430.2 157.53) scale(1 1.04)">0.010</text>
<text font-size="12.3" text-anchor="end" fill="#000" font-family='"Liberation Serif", serif' transform="translate(430.2 122.25) scale(1 1.04)">0.015</text>
<text font-size="12.3" text-anchor="end" fill="#000" font-family='"Liberation Serif", serif' transform="translate(430.2 86.97) scale(1 1.04)">0.020</text>
<text font-size="12.3" text-anchor="end" fill="#000" font-family='"Liberation Serif", serif' transform="translate(430.2 51.68) scale(1 1.04)">0.025</text>
<text font-size="12.3" text-anchor="end" fill="#000" font-family='"Liberation Serif", serif' transform="translate(430.2 16.4) scale(1 1.04)">0.030</text>
<text font-size="12.3" text-anchor="middle" fill="#000" font-family='"Liberation Serif", serif' transform="translate(435.1 238.7) scale(1 1.04)">0</text>
<text font-size="12.3" text-anchor="middle" fill="#000" font-family='"Liberation Serif", serif' transform="translate(469.54 238.7) scale(1 1.04)">100</text>
<text font-size="12.3" text-anchor="middle" fill="#000" font-family='"Liberation Serif", serif' transform="translate(503.99 238.7) scale(1 1.04)">200</text>
<text font-size="12.3" text-anchor="middle" fill="#000" font-family='"Liberation Serif", serif' transform="translate(538.43 238.7) scale(1 1.04)">300</text>
<text font-size="12.3" text-anchor="middle" fill="#000" font-family='"Liberation Serif", serif' transform="translate(572.87 238.7) scale(1 1.04)">400</text>
<text font-size="12.3" text-anchor="middle" fill="#000" font-family='"Liberation Serif", serif' transform="translate(607.31 238.7) scale(1 1.04)">500</text>
<text font-size="12.3" text-anchor="middle" fill="#000" font-family='"Liberation Serif", serif' transform="translate(641.76 238.7) scale(1 1.04)">600</text>
<text font-size="12.3" text-anchor="middle" fill="#000" font-family='"Liberation Serif", serif' transform="translate(676.2 238.7) scale(1 1.04)">700</text>
<text font-size="15.3" text-anchor="middle" fill="#000" font-family='"Liberation Serif", serif' transform="translate(393.6 127.8) rotate(-90) scale(1 1.04)">Electric displacement (C/m<tspan dy="-6" font-size="10">2</tspan><tspan dy="6">)</tspan></text>
<text font-size="15.3" text-anchor="middle" fill="#000" font-family='"Liberation Serif", serif' transform="translate(555.4 266.8) scale(1 1.04)">Electric field (MV/m)</text>
<line x1="435" y1="770.5" x2="439.2" y2="770.5" stroke="#000" stroke-width="1.6"/>
<line x1="435" y1="714.6" x2="439.2" y2="714.6" stroke="#000" stroke-width="1.6"/>
<line x1="435" y1="658.7" x2="439.2" y2="658.7" stroke="#000" stroke-width="1.6"/>
<line x1="435" y1="602.8" x2="439.2" y2="602.8" stroke="#000" stroke-width="1.6"/>
<line x1="435" y1="546.9" x2="439.2" y2="546.9" stroke="#000" stroke-width="1.6"/>
<line x1="435" y1="742.55" x2="437.1" y2="742.55" stroke="#000" stroke-width="1.6"/>
<line x1="435" y1="686.65" x2="437.1" y2="686.65" stroke="#000" stroke-width="1.6"/>
<line x1="435" y1="630.75" x2="437.1" y2="630.75" stroke="#000" stroke-width="1.6"/>
<line x1="435" y1="574.85" x2="437.1" y2="574.85" stroke="#000" stroke-width="1.6"/>
<line x1="435" y1="770.5" x2="435" y2="766.3" stroke="#000" stroke-width="1.6"/>
<line x1="488.44" y1="770.5" x2="488.44" y2="766.3" stroke="#000" stroke-width="1.6"/>
<line x1="541.89" y1="770.5" x2="541.89" y2="766.3" stroke="#000" stroke-width="1.6"/>
<line x1="595.33" y1="770.5" x2="595.33" y2="766.3" stroke="#000" stroke-width="1.6"/>
<line x1="648.78" y1="770.5" x2="648.78" y2="766.3" stroke="#000" stroke-width="1.6"/>
<line x1="461.72" y1="770.5" x2="461.72" y2="768.4" stroke="#000" stroke-width="1.6"/>
<line x1="515.17" y1="770.5" x2="515.17" y2="768.4" stroke="#000" stroke-width="1.6"/>
<line x1="568.61" y1="770.5" x2="568.61" y2="768.4" stroke="#000" stroke-width="1.6"/>
<line x1="622.06" y1="770.5" x2="622.06" y2="768.4" stroke="#000" stroke-width="1.6"/>
<line x1="675.5" y1="770.5" x2="675.5" y2="768.4" stroke="#000" stroke-width="1.6"/>
<path d="M435,739.9 C450,729.23 464.91,718.44 480,707.9 C489.91,700.97 499.99,694.29 510,687.5 C523.33,678.46 536.61,669.35 550,660.4 C559.95,653.75 569.98,647.23 580,640.7 C590.64,633.76 601.29,626.84 612,620 C614.39,618.47 616.87,617.07 619.3,615.6 C621.77,614.1 624.2,612.54 626.7,611.1 C629.1,609.71 631.49,608.28 634,607.1 C636.39,605.98 638.89,605.04 641.4,604.2 C643.66,603.44 647.68,601.61 648.3,602.3 C648.88,602.95 646.26,606.35 645,608.2 C643.96,609.72 642.61,611.01 641.4,612.4 C640.18,613.81 638.95,615.21 637.7,616.6 C636.48,617.95 635.23,619.27 634,620.6 C632.77,621.93 631.5,623.24 630.3,624.6 C629.07,626 628.02,627.58 626.7,628.9 C624.35,631.25 621.79,633.4 619.3,635.6 C616.89,637.73 614.46,639.83 612,641.9 C608.02,645.26 604.03,648.6 600,651.9 C596.7,654.6 593.36,657.26 590,659.9 C586.69,662.5 583.35,665.06 580,667.6 C573.35,672.63 566.68,677.61 560,682.6 C556.68,685.08 553.38,687.6 550,690 C536.71,699.43 523.34,708.74 510,718.1 C500.01,725.11 490.01,732.11 480,739.1 C465.01,749.58 450,760.03 435,770.5" fill="none" stroke="#111" stroke-width="1.75" stroke-linejoin="round" stroke-linecap="round"/>
<path d="M435,762.3 C450,751.43 464.93,740.47 480,729.7 C489.93,722.6 500.05,715.77 510,708.7 C523.38,699.2 536.59,689.46 550,680 C559.93,672.99 570.03,666.25 580,659.3 C590.7,651.85 601.33,644.29 612,636.8 C614.43,635.09 616.86,633.39 619.3,631.7 C621.76,629.99 624.25,628.32 626.7,626.6 C629.15,624.89 631.5,623.03 634,621.4 C636.4,619.83 638.94,618.47 641.4,617 C643.84,615.54 648.7,612.39 648.7,612.6 C648.7,612.83 643.82,616.39 641.4,618.3 C638.92,620.25 636.43,622.19 634,624.2 C631.53,626.25 629.16,628.43 626.7,630.5 C624.26,632.56 621.78,634.59 619.3,636.6 C616.88,638.56 614.45,640.49 612,642.4 C608.02,645.49 604.03,648.58 600,651.6 C596.7,654.08 593.36,656.5 590,658.9 C586.69,661.27 583.35,663.59 580,665.9 C573.35,670.49 566.65,675.01 560,679.6 C556.65,681.91 553.29,684.21 550,686.6 C536.62,696.34 523.34,706.21 510,716 C500,723.34 490.03,730.71 480,738 C465.03,748.88 450,759.67 435,770.5" fill="none" stroke="#ee4040" stroke-width="1.75" stroke-linejoin="round" stroke-linecap="round"/>
<line x1="447.7" y1="569.2" x2="481.6" y2="569.2" stroke="#111" stroke-width="1.8"/>
<line x1="447.7" y1="588.5" x2="481.6" y2="588.5" stroke="#ee4040" stroke-width="1.75"/>
<text font-size="15.3" text-anchor="start" fill="#000" font-family='"Liberation Serif", serif' transform="translate(486.4 575.1) scale(1 1.04)">PEI</text>
<text font-size="15.3" text-anchor="start" fill="#000" font-family='"Liberation Serif", serif' transform="translate(486.4 594.3) scale(1 1.04)">PEI/BMI PND</text>
<text font-size="15.5" text-anchor="start" fill="#000" font-family='"Liberation Serif", serif' transform="translate(598.3 751.5) scale(1 1.04)">@ <tspan dx="3">200</tspan> °C</text>
<rect x="435" y="546.9" width="240.5" height="223.6" fill="none" stroke="#000" stroke-width="1.6"/>
<text font-size="12.3" text-anchor="end" fill="#000" font-family='"Liberation Serif", serif' transform="translate(429.8 774) scale(1 1.04)">0.000</text>
<text font-size="12.3" text-anchor="end" fill="#000" font-family='"Liberation Serif", serif' transform="translate(429.8 718.1) scale(1 1.04)">0.005</text>
<text font-size="12.3" text-anchor="end" fill="#000" font-family='"Liberation Serif", serif' transform="translate(429.8 662.2) scale(1 1.04)">0.010</text>
<text font-size="12.3" text-anchor="end" fill="#000" font-family='"Liberation Serif", serif' transform="translate(429.8 606.3) scale(1 1.04)">0.015</text>
<text font-size="12.3" text-anchor="end" fill="#000" font-family='"Liberation Serif", serif' transform="translate(429.8 550.4) scale(1 1.04)">0.020</text>
<text font-size="12.3" text-anchor="middle" fill="#000" font-family='"Liberation Serif", serif' transform="translate(435 783.9) scale(1 1.04)">0</text>
<text font-size="12.3" text-anchor="middle" fill="#000" font-family='"Liberation Serif", serif' transform="translate(488.44 783.9) scale(1 1.04)">100</text>
<text font-size="12.3" text-anchor="middle" fill="#000" font-family='"Liberation Serif", serif' transform="translate(541.89 783.9) scale(1 1.04)">200</text>
<text font-size="12.3" text-anchor="middle" fill="#000" font-family='"Liberation Serif", serif' transform="translate(595.33 783.9) scale(1 1.04)">300</text>
<text font-size="12.3" text-anchor="middle" fill="#000" font-family='"Liberation Serif", serif' transform="translate(648.78 783.9) scale(1 1.04)">400</text>
<text font-size="15.3" text-anchor="middle" fill="#000" font-family='"Liberation Serif", serif' transform="translate(396.2 667.6) rotate(-90) scale(1 1.04)">Electric displacement (C/m<tspan dy="-6" font-size="10">2</tspan><tspan dy="6">)</tspan></text>
<text font-size="15.3" text-anchor="middle" fill="#000" font-family='"Liberation Serif", serif' transform="translate(555.2 811.8) scale(1 1.04)">Electric field (MV/m)</text>
<line x1="74.1" y1="480.9" x2="78.3" y2="480.9" stroke="#000" stroke-width="1.6"/>
<line x1="74.1" y1="455.95" x2="78.3" y2="455.95" stroke="#000" stroke-width="1.6"/>
<line x1="74.1" y1="431" x2="78.3" y2="431" stroke="#000" stroke-width="1.6"/>
<line x1="74.1" y1="406.05" x2="78.3" y2="406.05" stroke="#000" stroke-width="1.6"/>
<line x1="74.1" y1="381.1" x2="78.3" y2="381.1" stroke="#000" stroke-width="1.6"/>
<line x1="74.1" y1="356.15" x2="78.3" y2="356.15" stroke="#000" stroke-width="1.6"/>
<line x1="74.1" y1="331.2" x2="78.3" y2="331.2" stroke="#000" stroke-width="1.6"/>
<line x1="74.1" y1="306.25" x2="78.3" y2="306.25" stroke="#000" stroke-width="1.6"/>
<line x1="74.1" y1="281.3" x2="78.3" y2="281.3" stroke="#000" stroke-width="1.6"/>
<line x1="74.1" y1="468.42" x2="76.2" y2="468.42" stroke="#000" stroke-width="1.6"/>
<line x1="74.1" y1="443.47" x2="76.2" y2="443.47" stroke="#000" stroke-width="1.6"/>
<line x1="74.1" y1="418.52" x2="76.2" y2="418.52" stroke="#000" stroke-width="1.6"/>
<line x1="74.1" y1="393.57" x2="76.2" y2="393.57" stroke="#000" stroke-width="1.6"/>
<line x1="74.1" y1="368.62" x2="76.2" y2="368.62" stroke="#000" stroke-width="1.6"/>
<line x1="74.1" y1="343.68" x2="76.2" y2="343.68" stroke="#000" stroke-width="1.6"/>
<line x1="74.1" y1="318.73" x2="76.2" y2="318.73" stroke="#000" stroke-width="1.6"/>
<line x1="74.1" y1="293.77" x2="76.2" y2="293.77" stroke="#000" stroke-width="1.6"/>
<line x1="91.48" y1="492.9" x2="91.48" y2="488.7" stroke="#000" stroke-width="1.6"/>
<line x1="126.23" y1="492.9" x2="126.23" y2="488.7" stroke="#000" stroke-width="1.6"/>
<line x1="160.98" y1="492.9" x2="160.98" y2="488.7" stroke="#000" stroke-width="1.6"/>
<line x1="195.74" y1="492.9" x2="195.74" y2="488.7" stroke="#000" stroke-width="1.6"/>
<line x1="230.49" y1="492.9" x2="230.49" y2="488.7" stroke="#000" stroke-width="1.6"/>
<line x1="265.25" y1="492.9" x2="265.25" y2="488.7" stroke="#000" stroke-width="1.6"/>
<line x1="300" y1="492.9" x2="300" y2="488.7" stroke="#000" stroke-width="1.6"/>
<line x1="108.85" y1="492.9" x2="108.85" y2="490.8" stroke="#000" stroke-width="1.6"/>
<line x1="143.61" y1="492.9" x2="143.61" y2="490.8" stroke="#000" stroke-width="1.6"/>
<line x1="178.36" y1="492.9" x2="178.36" y2="490.8" stroke="#000" stroke-width="1.6"/>
<line x1="213.12" y1="492.9" x2="213.12" y2="490.8" stroke="#000" stroke-width="1.6"/>
<line x1="247.87" y1="492.9" x2="247.87" y2="490.8" stroke="#000" stroke-width="1.6"/>
<line x1="282.62" y1="492.9" x2="282.62" y2="490.8" stroke="#000" stroke-width="1.6"/>
<circle cx="282.6" cy="306.6" r="4" fill="#9b30d0" stroke="#9b30d0" stroke-width="0.3"/>
<polygon points="282.8,295.6 285.07,300.87 290.79,301.4 286.47,305.19 287.74,310.8 282.8,307.86 277.86,310.8 279.13,305.19 274.81,301.4 280.53,300.87" fill="#ff0000" stroke="#ff0000" stroke-width="0.6" stroke-linejoin="miter"/>
<line x1="239.9" y1="296.3" x2="269.53" y2="301.97" stroke="#0000ff" stroke-width="1.1"/>
<polygon points="276.5,303.3 268.53,304.52 269.54,299.22" fill="#0000ff" stroke="none" stroke-width="1" stroke-linejoin="miter"/>
<text font-size="18" text-anchor="start" fill="#ff0000" font-family='"Liberation Serif", serif' transform="translate(169 307.2) scale(1 1.04)">This work</text>
<text font-size="15.3" text-anchor="start" fill="#a010d4" font-family='"Liberation Serif", serif' transform="translate(290.5 331.2) scale(1 1.04)">P(st-co-mah)</text>
<polygon points="248.4,350.8 253.8,356.2 243,356.2" fill="#e8198b" stroke="none" stroke-width="1" stroke-linejoin="miter"/>
<polygon points="248.4,350.8 253.8,356.2 248.4,361.6 243,356.2" fill="none" stroke="#e8198b" stroke-width="1" stroke-linejoin="miter"/>
<text font-size="15.3" text-anchor="start" fill="#e8198b" font-family='"Liberation Serif", serif' transform="translate(197.6 367.2) scale(1 1.04)">PEI/TE</text>
<polygon points="270.1,351.6 278.8,346.6 278.8,356.6" fill="#a47a1e" stroke="none" stroke-width="1" stroke-linejoin="miter"/>
<text font-size="15.3" text-anchor="start" fill="#a87c1c" font-family='"Liberation Serif", serif' transform="translate(288.1 357.1) scale(1 1.04)">PEI/NTCDA</text>
<polygon points="266.4,354.6 272,360.2 266.4,365.8 260.8,360.2" fill="#1a6fb0" stroke="none" stroke-width="1" stroke-linejoin="miter"/>
<text font-size="15.3" text-anchor="start" fill="#1a6fb0" font-family='"Liberation Serif", serif' transform="translate(270.3 378.9) scale(1 1.04)">o-PNOFB</text>
<polygon points="230.6,368 236.1,376.9 225.1,376.9" fill="#0000ff" stroke="none" stroke-width="1" stroke-linejoin="miter"/>
<text font-size="15.3" text-anchor="end" fill="#1818f4" font-family='"Liberation Serif", serif' transform="translate(230.4 389.9) scale(1 1.04)">Polysulfate P3</text>
<rect x="209.4" y="398.5" width="7.9" height="7.4" fill="#000"/>
<text font-size="15.3" text-anchor="start" fill="#000" font-family='"Liberation Serif", serif' transform="translate(184.3 413.8) scale(1 1.04)">PEI</text>
<polygon points="230.5,398.2 235.5,406.4 225.5,406.4" fill="none" stroke="#ff8020" stroke-width="1" stroke-linejoin="miter"/>
<text font-size="15.3" text-anchor="start" fill="#ff8020" font-family='"Liberation Serif", serif' transform="translate(242.5 414.8) scale(1 1.04)">FPI</text>
<polygon points="176.1,407.8 180.8,411 180.3,412.6 171.9,412.6 171.4,411" fill="#5577ff" stroke="none" stroke-width="1" stroke-linejoin="miter"/>
<polygon points="176.1,407.8 180.8,411 179.2,416.5 173,416.5 171.4,411" fill="none" stroke="#5577ff" stroke-width="1" stroke-linejoin="miter"/>
<text font-size="15.3" text-anchor="start" fill="#6688ee" font-family='"Liberation Serif", serif' transform="translate(107.2 431.8) scale(1 1.04)">PEI/PI/PEI</text>
<polygon points="187.6,430.9 192.7,439.2 187.6,439.2" fill="#9922ee" stroke="none" stroke-width="1" stroke-linejoin="miter"/>
<polygon points="187.6,430.9 192.7,439.2 182.5,439.2" fill="none" stroke="#9922ee" stroke-width="1" stroke-linejoin="miter"/>
<text font-size="15.3" text-anchor="start" fill="#9526f5" font-family='"Liberation Serif", serif' transform="translate(193.3 438.1) scale(1 1.04)">POFNB</text>
<circle cx="172.4" cy="441.9" r="4" fill="none" stroke="#33dd66" stroke-width="1"/>
<text font-size="15.3" text-anchor="start" fill="#22cc88" font-family='"Liberation Serif", serif' transform="translate(145 456.1) scale(1 1.04)">sPI</text>
<polygon points="197.6,438 200.2,442.2 195,442.2" fill="#800000" stroke="none" stroke-width="1" stroke-linejoin="miter"/>
<polygon points="197.6,438 202.8,446.3 192.4,446.3" fill="none" stroke="#800000" stroke-width="1" stroke-linejoin="miter"/>
<text font-size="15.3" text-anchor="start" fill="#860c0c" font-family='"Liberation Serif", serif' transform="translate(204.6 467.9) scale(1 1.04)">PTFE</text>
<rect x="74.1" y="281.3" width="243.6" height="211.6" fill="none" stroke="#000" stroke-width="1.6"/>
<text font-size="12.3" text-anchor="end" fill="#000" font-family='"Liberation Serif", serif' transform="translate(69.6 484.5) scale(1 1.04)">0</text>
<text font-size="12.3" text-anchor="end" fill="#000" font-family='"Liberation Serif", serif' transform="translate(69.6 459.55) scale(1 1.04)">1</text>
<text font-size="12.3" text-anchor="end" fill="#000" font-family='"Liberation Serif", serif' transform="translate(69.6 434.6) scale(1 1.04)">2</text>
<text font-size="12.3" text-anchor="end" fill="#000" font-family='"Liberation Serif", serif' transform="translate(69.6 409.65) scale(1 1.04)">3</text>
<text font-size="12.3" text-anchor="end" fill="#000" font-family='"Liberation Serif", serif' transform="translate(69.6 384.7) scale(1 1.04)">4</text>
<text font-size="12.3" text-anchor="end" fill="#000" font-family='"Liberation Serif", serif' transform="translate(69.6 359.75) scale(1 1.04)">5</text>
<text font-size="12.3" text-anchor="end" fill="#000" font-family='"Liberation Serif", serif' transform="translate(69.6 334.8) scale(1 1.04)">6</text>
<text font-size="12.3" text-anchor="end" fill="#000" font-family='"Liberation Serif", serif' transform="translate(69.6 309.85) scale(1 1.04)">7</text>
<text font-size="12.3" text-anchor="end" fill="#000" font-family='"Liberation Serif", serif' transform="translate(69.6 284.9) scale(1 1.04)">8</text>
<text font-size="12.3" text-anchor="middle" fill="#000" font-family='"Liberation Serif", serif' transform="translate(91.48 506.4) scale(1 1.04)">100</text>
<text font-size="12.3" text-anchor="middle" fill="#000" font-family='"Liberation Serif", serif' transform="translate(126.23 506.4) scale(1 1.04)">200</text>
<text font-size="12.3" text-anchor="middle" fill="#000" font-family='"Liberation Serif", serif' transform="translate(160.98 506.4) scale(1 1.04)">300</text>
<text font-size="12.3" text-anchor="middle" fill="#000" font-family='"Liberation Serif", serif' transform="translate(195.74 506.4) scale(1 1.04)">400</text>
<text font-size="12.3" text-anchor="middle" fill="#000" font-family='"Liberation Serif", serif' transform="translate(230.49 506.4) scale(1 1.04)">500</text>
<text font-size="12.3" text-anchor="middle" fill="#000" font-family='"Liberation Serif", serif' transform="translate(265.25 506.4) scale(1 1.04)">600</text>
<text font-size="12.3" text-anchor="middle" fill="#000" font-family='"Liberation Serif", serif' transform="translate(300 506.4) scale(1 1.04)">700</text>
<text font-size="15.3" text-anchor="middle" fill="#000" font-family='"Liberation Serif", serif' transform="translate(30 389) rotate(-90) scale(1 1.04)">Maximum discharge energy density achieved</text>
<text font-size="15.3" text-anchor="middle" fill="#000" font-family='"Liberation Serif", serif' transform="translate(51.6 387.1) rotate(-90) scale(1 1.04)">90% charge-discharge efficiency (J/cm<tspan dy="-6" font-size="10">3</tspan><tspan dy="6">)</tspan></text>
<text font-size="15.3" text-anchor="middle" fill="#000" font-family='"Liberation Serif", serif' transform="translate(196 535.8) scale(1 1.04)">Electric field (MV/m)</text>
<line x1="434.2" y1="493.8" x2="438.4" y2="493.8" stroke="#000" stroke-width="1.6"/>
<line x1="434.2" y1="458.6" x2="438.4" y2="458.6" stroke="#000" stroke-width="1.6"/>
<line x1="434.2" y1="423.4" x2="438.4" y2="423.4" stroke="#000" stroke-width="1.6"/>
<line x1="434.2" y1="388.2" x2="438.4" y2="388.2" stroke="#000" stroke-width="1.6"/>
<line x1="434.2" y1="353" x2="438.4" y2="353" stroke="#000" stroke-width="1.6"/>
<line x1="434.2" y1="317.8" x2="438.4" y2="317.8" stroke="#000" stroke-width="1.6"/>
<line x1="434.2" y1="282.6" x2="438.4" y2="282.6" stroke="#000" stroke-width="1.6"/>
<line x1="434.2" y1="476.2" x2="436.3" y2="476.2" stroke="#000" stroke-width="1.6"/>
<line x1="434.2" y1="441" x2="436.3" y2="441" stroke="#000" stroke-width="1.6"/>
<line x1="434.2" y1="405.8" x2="436.3" y2="405.8" stroke="#000" stroke-width="1.6"/>
<line x1="434.2" y1="370.6" x2="436.3" y2="370.6" stroke="#000" stroke-width="1.6"/>
<line x1="434.2" y1="335.4" x2="436.3" y2="335.4" stroke="#000" stroke-width="1.6"/>
<line x1="434.2" y1="300.2" x2="436.3" y2="300.2" stroke="#000" stroke-width="1.6"/>
<defs><pattern id="hO" patternUnits="userSpaceOnUse" x="0.57" y="0" width="8.56" height="8.56" patternTransform="rotate(45)"><rect width="8.56" height="8.56" fill="#808000"/><line x1="0" y1="-1" x2="0" y2="9.6" stroke="#1a1a00" stroke-width="0.9"/></pattern><pattern id="hG" patternUnits="userSpaceOnUse" x="0" y="0" width="8.56" height="8.56" patternTransform="rotate(-45)"><rect width="8.56" height="8.56" fill="#008000"/><line x1="0" y1="-1" x2="0" y2="9.6" stroke="#001a00" stroke-width="0.9"/></pattern></defs>
<rect x="450" y="350.54" width="24.1" height="143.36" fill="url(#hO)" stroke="#000" stroke-width="0.8"/>
<rect x="474.1" y="329.06" width="24.6" height="164.84" fill="url(#hG)" stroke="#000" stroke-width="0.8"/>
<rect x="530.6" y="406.86" width="23.8" height="87.04" fill="url(#hO)" stroke="#000" stroke-width="0.8"/>
<rect x="554.4" y="349.48" width="24.5" height="144.42" fill="url(#hG)" stroke="#000" stroke-width="0.8"/>
<rect x="610.4" y="425.86" width="24.1" height="68.04" fill="url(#hO)" stroke="#000" stroke-width="0.8"/>
<rect x="634.5" y="383.98" width="24.4" height="109.92" fill="url(#hG)" stroke="#000" stroke-width="0.8"/>
<rect x="449.3" y="291.2" width="33.9" height="16.1" fill="url(#hO)" stroke="#000" stroke-width="0.8"/>
<rect x="449.3" y="310.4" width="33.9" height="15.9" fill="url(#hG)" stroke="#000" stroke-width="0.8"/>
<text font-size="15.3" text-anchor="start" fill="#000" font-family='"Liberation Serif", serif' transform="translate(487.9 304.1) scale(1 1.04)">PEI</text>
<text font-size="15.3" text-anchor="start" fill="#000" font-family='"Liberation Serif", serif' transform="translate(487.9 323.2) scale(1 1.04)">PEI/BMI PND</text>
<rect x="434.2" y="282.4" width="240.4" height="211.5" fill="none" stroke="#000" stroke-width="1.6"/>
<text font-size="12.3" text-anchor="end" fill="#000" font-family='"Liberation Serif", serif' transform="translate(429.8 497.8) scale(1 1.04)">300</text>
<text font-size="12.3" text-anchor="end" fill="#000" font-family='"Liberation Serif", serif' transform="translate(429.8 462.6) scale(1 1.04)">400</text>
<text font-size="12.3" text-anchor="end" fill="#000" font-family='"Liberation Serif", serif' transform="translate(429.8 427.4) scale(1 1.04)">500</text>
<text font-size="12.3" text-anchor="end" fill="#000" font-family='"Liberation Serif", serif' transform="translate(429.8 392.2) scale(1 1.04)">600</text>
<text font-size="12.3" text-anchor="end" fill="#000" font-family='"Liberation Serif", serif' transform="translate(429.8 357) scale(1 1.04)">700</text>
<text font-size="12.3" text-anchor="end" fill="#000" font-family='"Liberation Serif", serif' transform="translate(429.8 321.8) scale(1 1.04)">800</text>
<text font-size="12.3" text-anchor="end" fill="#000" font-family='"Liberation Serif", serif' transform="translate(429.8 286.6) scale(1 1.04)">900</text>
<text font-size="12.3" text-anchor="middle" fill="#000" font-family='"Liberation Serif", serif' transform="translate(474.1 507.8) scale(1 1.04)">25</text>
<text font-size="12.3" text-anchor="middle" fill="#000" font-family='"Liberation Serif", serif' transform="translate(554.5 507.8) scale(1 1.04)">150</text>
<text font-size="12.3" text-anchor="middle" fill="#000" font-family='"Liberation Serif", serif' transform="translate(634.3 507.8) scale(1 1.04)">200</text>
<text font-size="15.3" text-anchor="middle" fill="#000" font-family='"Liberation Serif", serif' transform="translate(401.9 388) rotate(-90) scale(1 1.04)">Weibull Breakdown Strength (MV/m)</text>
<text font-size="15.3" text-anchor="middle" fill="#000" font-family='"Liberation Serif", serif' transform="translate(555.1 535.4) scale(1 1.04)">Temperature (<tspan dy="-6" font-size="10">o</tspan><tspan dy="6">C)</tspan></text>
<text font-size="24.5" text-anchor="start" fill="#000" font-family='"Liberation Sans", sans-serif' transform="translate(2 18.7) scale(1 1)">a</text>
<text font-size="24.5" text-anchor="start" fill="#000" font-family='"Liberation Sans", sans-serif' transform="translate(373.3 17.3) scale(1 1)">b</text>
<text font-size="24.5" text-anchor="start" fill="#000" font-family='"Liberation Sans", sans-serif' transform="translate(2 262) scale(1 1)">c</text>
<text font-size="24.5" text-anchor="start" fill="#000" font-family='"Liberation Sans", sans-serif' transform="translate(371.1 263.7) scale(1 1)">d</text>
<text font-size="24.5" text-anchor="start" fill="#000" font-family='"Liberation Sans", sans-serif' transform="translate(-1.5 555.7) scale(1 1)">e</text>
<text font-size="24.5" text-anchor="start" fill="#000" font-family='"Liberation Sans", sans-serif' transform="translate(375.7 548.5) scale(1 1)">f</text>
</svg>
</body></html>
